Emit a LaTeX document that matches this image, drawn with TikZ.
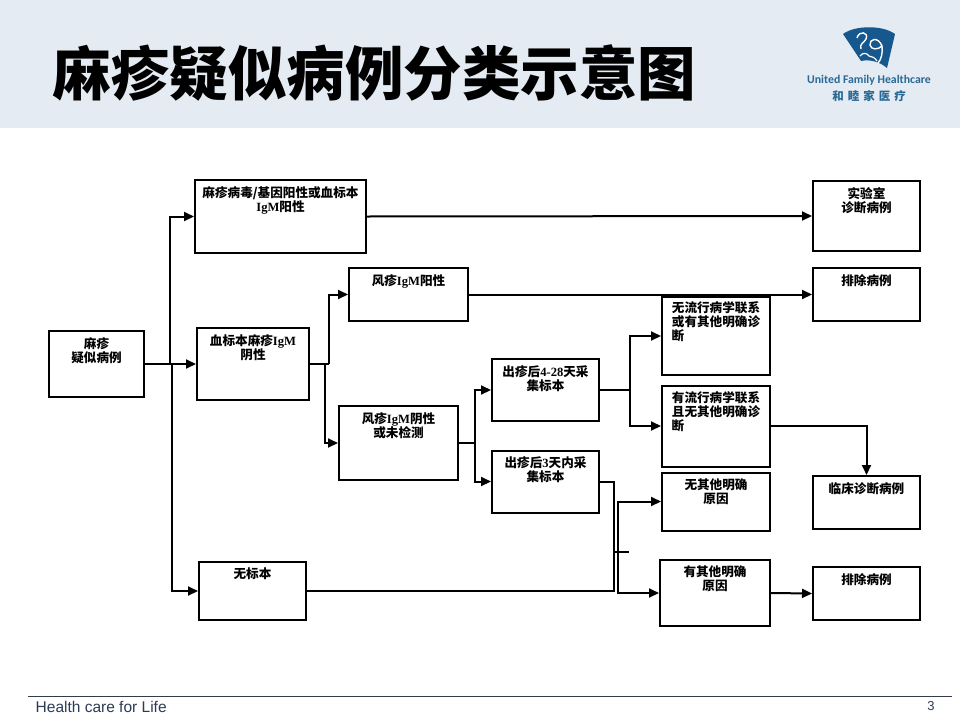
\documentclass[tikz,border=0pt]{standalone}
\usepackage{fontspec}
\usepackage{xcolor}
\setmainfont{Noto Sans CJK SC}
\newfontfamily\titlefont[UprightFont=* Black]{Noto Sans CJK SC}
\newfontfamily\latfont{Liberation Serif}
\newfontfamily\footfont{Liberation Sans}
\newfontfamily\logofont{Carlito}
\usetikzlibrary{
	arrows.meta,
	calc,
	positioning
}
\definecolor{BandBlue}{RGB}{228,235,242}
\definecolor{LogoBlue}{RGB}{22,88,142}
\definecolor{LogoText}{RGB}{40,105,150}
\definecolor{FootLine}{RGB}{50,60,75}
\definecolor{FootText}{RGB}{45,60,85}
\newcommand{\lat}[1]{{\latfont #1}}
\tikzset{
	flowbox/.style={draw=black, line width=2pt, fill=white, inner sep=0pt},
	flowtext/.style={font=\fontsize{12.6}{14}\selectfont\bfseries, align=center, anchor=north, inner sep=0pt, text=black},
	conn/.style={draw=black, line width=2pt, -{Triangle[length=10pt,width=9pt]}},
	connplain/.style={draw=black, line width=2pt}
}
\begin{document}
\begin{tikzpicture}[x=1pt, y=-1pt]
	\useasboundingbox (0,0) rectangle (960,720);
	\fill[white] (0,0) rectangle (960,720);
	\fill[BandBlue] (0,0) rectangle (960,128);
	% 标题
	\node[font=\titlefont\fontsize{58.5}{60}\selectfont, anchor=center, inner sep=0pt] (title) at (374.5,73) {麻疹疑似病例分类示意图};
	% 标志
	\fill[LogoBlue] (843,34) .. controls (855,25) and (883,25) .. (895,34) -- (887,68) .. controls (880,62) and (870,59) .. (861,61) -- cycle;
	\draw[white, line width=1.4pt] (857,38) .. controls (859,30) and (869,32) .. (866,39) .. controls (864,43) and (859,44) .. (861,49);
	\draw[white, line width=1.4pt] (882,46) .. controls (878,36) and (869,39) .. (870,45) .. controls (871,50) and (878,50) .. (882,46) .. controls (883,53) and (881,60) .. (878,63);
	\draw[white, line width=1.2pt] (860,56) .. controls (863,52) and (867,53) .. (869,56) .. controls (872,56) and (875,58) .. (877,61);
	\node[font=\logofont\fontsize{11.8}{14}\selectfont\bfseries, text=LogoText, inner sep=0pt] (logoname) at (869,80) {United Family Healthcare};
	\node[font=\fontsize{11.5}{12}\selectfont\bfseries, text=LogoText, inner sep=0pt] (logocn) at (869,96) {和\hspace{4pt}睦\hspace{4pt}家\hspace{4pt}医\hspace{4pt}疗};
	% 方框
	\node[flowbox, minimum width=95pt, minimum height=66pt, label={[flowtext, yshift=-7pt]north:麻疹\\疑似病例}] (suspect) at (96.5,364) {};
	\node[flowbox, minimum width=171pt, minimum height=73pt, label={[flowtext, yshift=-7pt]north:麻疹病毒/基因阳性或血标本\\\lat{IgM}阳性}] (virus) at (280.5,216.5) {};
	\node[flowbox, minimum width=112pt, minimum height=72pt, label={[flowtext, yshift=-7pt]north:血标本麻疹\lat{IgM}\\阴性}] (blood) at (253,364) {};
	\node[flowbox, minimum width=107pt, minimum height=58pt, label={[flowtext, yshift=-7pt]north:无标本}] (nosample) at (252.5,591) {};
	\node[flowbox, minimum width=119pt, minimum height=53pt, label={[flowtext, yshift=-7pt]north:风疹\lat{IgM}阳性}] (rubpos) at (408.5,294.5) {};
	\node[flowbox, minimum width=119pt, minimum height=74pt, label={[flowtext, yshift=-7pt]north:风疹\lat{IgM}阴性\\或未检测}] (rubneg) at (398.5,443) {};
	\node[flowbox, minimum width=107pt, minimum height=62pt, label={[flowtext, yshift=-7pt]north:出疹后\lat{4-28}天采\\集标本}] (late) at (545.5,390) {};
	\node[flowbox, minimum width=107pt, minimum height=62pt, label={[flowtext, yshift=-7pt]north:出疹后\lat{3}天内采\\集标本}] (early) at (545.5,481.5) {};
	\node[flowbox, minimum width=108pt, minimum height=78pt, label={[flowtext, yshift=-5pt]north:无流行病学联系\\或有其他明确诊\\断\hspace*{76pt}}] (nolink) at (716,336) {};
	\node[flowbox, minimum width=108pt, minimum height=81pt, label={[flowtext, yshift=-7pt]north:有流行病学联系\\且无其他明确诊\\断\hspace*{76pt}}] (link) at (716,426) {};
	\node[flowbox, minimum width=108pt, minimum height=58pt, label={[flowtext, yshift=-7pt]north:无其他明确\\原因}] (nocause) at (716,501.5) {};
	\node[flowbox, minimum width=110pt, minimum height=66pt, label={[flowtext, yshift=-7pt]north:有其他明确\\原因}] (cause) at (715,593) {};
	\node[flowbox, minimum width=107pt, minimum height=70pt, label={[flowtext, yshift=-7pt]north:实验室\\诊断病例}] (labcase) at (866.5,216) {};
	\node[flowbox, minimum width=107pt, minimum height=53pt, label={[flowtext, yshift=-7pt]north:排除病例}] (excludea) at (866.5,294.5) {};
	\node[flowbox, minimum width=107pt, minimum height=53pt, label={[flowtext, yshift=-7pt]north:临床诊断病例}] (clinical) at (866.5,502.5) {};
	\node[flowbox, minimum width=107pt, minimum height=53pt, label={[flowtext, yshift=-7pt]north:排除病例}] (excludeb) at (866.5,593.5) {};
	% 分支点
	\coordinate (trunkup) at (170,364);
	\coordinate (trunkdown) at (171.5,364);
	\coordinate (bloodup) at (329,364);
	\coordinate (blooddown) at (325,364);
	\coordinate (rubfork) at (475,443);
	\coordinate (latefork) at (630,390);
	\coordinate (earlyturn) at (614,481.5);
	\coordinate (causefork) at (618,552);
	\coordinate (tickend) at (629,552);
	% 连线
	\draw[conn] (suspect.east) -- (blood.west);
	\draw[conn] (trunkup) |- (virus.west);
	\draw[conn] (trunkdown) |- (nosample.west);
	\draw[conn] (virus.east) -- (labcase.west);
	\draw[connplain] (blood.east) -- (bloodup);
	\draw[conn] (bloodup) |- (rubpos.west);
	\draw[conn] (blooddown) |- (rubneg.west);
	\draw[conn] (rubpos.east) -- (excludea.west);
	\draw[connplain] (rubneg.east) -- (rubfork);
	\draw[conn] (rubfork) |- (late.west);
	\draw[conn] (rubfork) |- (early.west);
	\draw[connplain] (late.east) -- (latefork);
	\draw[conn] (latefork) |- (nolink.west);
	\draw[conn] (latefork) |- (link.west);
	\draw[conn] (link.east) -| (clinical.north);
	\draw[connplain] (early.east) -- (earlyturn) |- (nosample.east);
	\draw[connplain] (earlyturn |- causefork) -- (tickend);
	\draw[conn] (causefork) |- (nocause.west);
	\draw[conn] (causefork) |- (cause.west);
	\draw[conn] (cause.east) -- (excludeb.west);
	% 页脚
	\draw[FootLine, line width=1pt] (28,696.5) -- (952,696.5);
	\node[font=\footfont\fontsize{15.5}{17}\selectfont, text=FootText, anchor=west, inner sep=0pt] (slogan) at (35.5,706.5) {Health care for Life};
	\node[font=\footfont\fontsize{13}{15}\selectfont, text=FootText, inner sep=0pt] (pagenum) at (931,706) {3};
\end{tikzpicture}
\end{document}
